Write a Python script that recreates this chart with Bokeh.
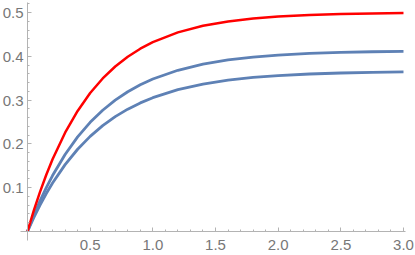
from bokeh.plotting import figure
from bokeh.models import FixedTicker, Range1d
from bokeh.core.properties import value
from bokeh.embed import file_html
from bokeh.resources import INLINE

# values
x_vals = [0, 0.05, 0.1, 0.15, 0.2, 0.3, 0.4, 0.5, 0.6, 0.7, 0.8, 0.9, 1.0,
          1.2, 1.4, 1.6, 1.8, 2.0, 2.25, 2.5, 2.75, 3.0]
red_vals = [0, 0.0476, 0.0906, 0.1296, 0.1648, 0.2256, 0.2753, 0.3161, 0.3494,
            0.3767, 0.3991, 0.4174, 0.4323, 0.4546, 0.4696, 0.4796, 0.4863,
            0.4908, 0.4944, 0.4966, 0.4980, 0.4988]
blue_upper = [0, 0.0365, 0.0698, 0.1001, 0.1277, 0.1759, 0.2160, 0.2493, 0.2769,
              0.2999, 0.3190, 0.3349, 0.3481, 0.3681, 0.3820, 0.3916, 0.3982,
              0.4028, 0.4066, 0.4090, 0.4104, 0.4114]
blue_lower = [0, 0.0315, 0.0603, 0.0866, 0.1106, 0.1527, 0.1878, 0.2172, 0.2417,
              0.2622, 0.2793, 0.2936, 0.3055, 0.3238, 0.3365, 0.3455, 0.3517,
              0.3560, 0.3596, 0.3619, 0.3634, 0.3644]

x_major = [0.5, 1.0, 1.5, 2.0, 2.5, 3.0]
x_labels = ["0.5", "1.0", "1.5", "2.0", "2.5", "3.0"]
y_major = [0.1, 0.2, 0.3, 0.4, 0.5]
y_labels = ["0.1", "0.2", "0.3", "0.4", "0.5"]

x_minor = [round(i * 0.1, 2) for i in range(1, 31) if i % 5 != 0]
y_minor = [round(i * 0.02, 2) for i in range(1, 27) if i % 5 != 0]

p = figure(width=415, height=255, output_backend="svg", toolbar_location=None,
           x_range=Range1d(-0.2154, 3.0958), y_range=Range1d(-0.0548, 0.5274),
           min_border_left=0, min_border_right=0, min_border_top=0,
           min_border_bottom=0)
p.outline_line_color = None
p.xgrid.visible = False
p.ygrid.visible = False
p.background_fill_color = "white"
p.border_fill_color = "white"

blue = "#5e81b5"
p.line(x_vals, blue_lower, line_color=blue, line_width=2.8)
p.line(x_vals, blue_upper, line_color=blue, line_width=2.8)
p.line(x_vals, red_vals, line_color="#ff0000", line_width=2.5)

axis_gray = "#b3b3b3"
label_gray = "#777777"
p.xaxis[0].bounds = (-0.0559, 3.016)
p.yaxis[0].bounds = (-0.0205, 0.5228)
for ax, major, minor in ((p.xaxis[0], x_major, x_minor),
                         (p.yaxis[0], y_major, y_minor)):
    ax.fixed_location = 0
    ax.ticker = FixedTicker(ticks=major, minor_ticks=minor)
    ax.major_label_overrides = {v: "" for v in major}
    ax.axis_line_color = axis_gray
    ax.major_tick_line_color = axis_gray
    ax.minor_tick_line_color = axis_gray
    ax.major_tick_in = 4
    ax.major_tick_out = 0
    ax.minor_tick_in = 2
    ax.minor_tick_out = 0

# tick labels as text placed at the tick values
p.text(x=x_major, y=[0] * len(x_major), text=x_labels,
       text_font=value("Liberation Sans"), text_font_size="15px",
       text_color=label_gray, text_align="center", text_baseline="alphabetic",
       y_offset=14)
p.text(x=[0] * len(y_major), y=y_major, text=y_labels,
       text_font=value("Liberation Sans"), text_font_size="15px",
       text_color=label_gray, text_align="right", text_baseline="alphabetic",
       x_offset=-4, y_offset=0.5)

open("out.html", "w").write(file_html(p, INLINE))
